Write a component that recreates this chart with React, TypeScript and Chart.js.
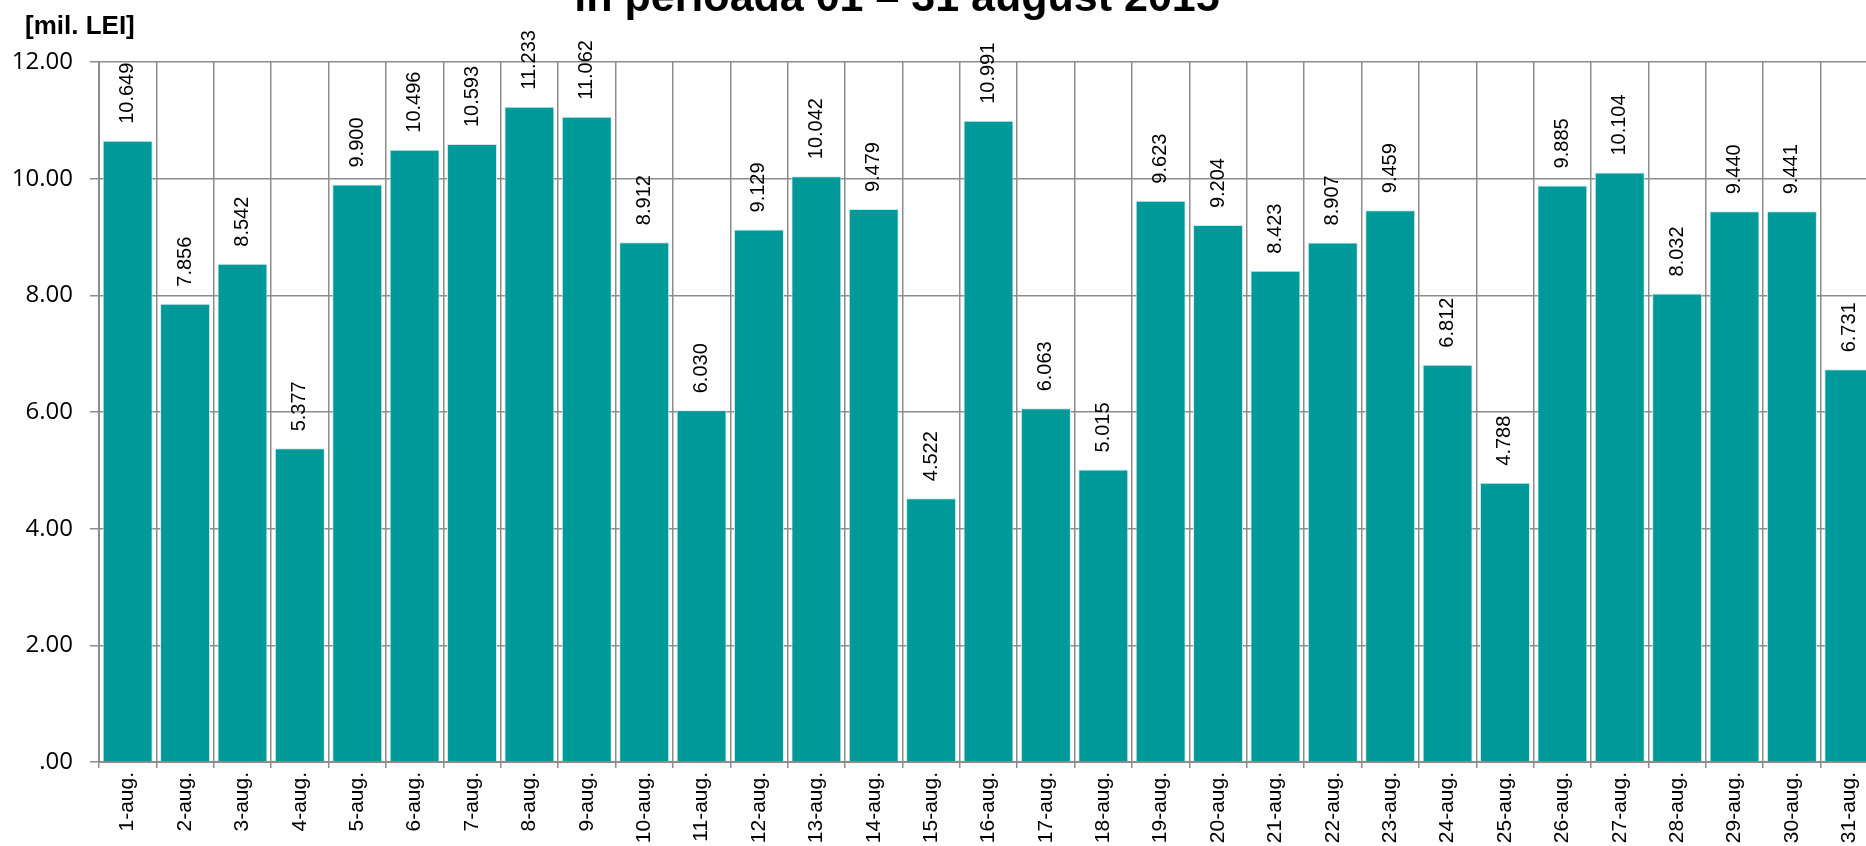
import React, { useEffect, useRef } from "react";
import { Chart, registerables } from "chart.js";

Chart.register(...registerables);

const categories: string[] = [
  "1-aug.", "2-aug.", "3-aug.", "4-aug.", "5-aug.", "6-aug.", "7-aug.", "8-aug.",
  "9-aug.", "10-aug.", "11-aug.", "12-aug.", "13-aug.", "14-aug.", "15-aug.", "16-aug.",
  "17-aug.", "18-aug.", "19-aug.", "20-aug.", "21-aug.", "22-aug.", "23-aug.", "24-aug.",
  "25-aug.", "26-aug.", "27-aug.", "28-aug.", "29-aug.", "30-aug.", "31-aug.",
];

const values: number[] = [
  10.649, 7.856, 8.542, 5.377, 9.9, 10.496, 10.593, 11.233,
  11.062, 8.912, 6.03, 9.129, 10.042, 9.479, 4.522, 10.991,
  6.063, 5.015, 9.623, 9.204, 8.423, 8.907, 9.459, 6.812,
  4.788, 9.885, 10.104, 8.032, 9.44, 9.441, 6.731,
];

const titleText = "în perioada 01 – 31 august 2015";
const unitText = "[mil. LEI]";
const yMin = 0;
const yMax = 12;
const yStep = 2;

const CANVAS_W = 1880;
const CANVAS_H = 900;
const AXIS_LEFT = 99;
const PLOT_TOP = 62;
const PLOT_BOTTOM = 762;

const GRID = "#8c8c8c";
const BAR = "#009999";

const labelsPlugin = {
  id: "valueLabels",
  afterDatasetsDraw(chart: any) {
    const ctx = chart.ctx;
    const meta = chart.getDatasetMeta(0);
    ctx.save();
    ctx.fillStyle = "#000";
    ctx.font = "20px 'Liberation Sans', Arial, sans-serif";
    ctx.textAlign = "left";
    ctx.textBaseline = "middle";
    meta.data.forEach((el: any, i: number) => {
      ctx.save();
      ctx.translate(el.x, el.y - 17);
      ctx.rotate(-Math.PI / 2);
      ctx.fillText(values[i].toFixed(3), 0, 0);
      ctx.restore();
    });
    ctx.restore();
  },
  afterDraw(chart: any) {
    const ctx = chart.ctx;
    ctx.save();
    ctx.fillStyle = "#000";
    ctx.textBaseline = "alphabetic";
    ctx.font = "bold 43px 'Liberation Sans', Arial, sans-serif";
    ctx.textAlign = "center";
    ctx.fillText(titleText, 897, 11);
    ctx.font = "bold 26px 'Liberation Sans', Arial, sans-serif";
    ctx.textAlign = "left";
    ctx.fillText(unitText, 25, 34);
    ctx.restore();
  },
};

export default function App() {
  const ref = useRef<HTMLCanvasElement | null>(null);
  useEffect(() => {
    if (!ref.current) return;
    const chart = new Chart(ref.current, {
      type: "bar",
      data: {
        labels: categories,
        datasets: [
          {
            data: values,
            backgroundColor: BAR,
            borderColor: "#cfe9e9",
            borderWidth: 1,
            barPercentage: 0.871,
            categoryPercentage: 1,
          },
        ],
      },
      options: {
        animation: false,
        responsive: false,
        devicePixelRatio: 1,
        layout: { padding: { left: 0, top: PLOT_TOP, right: 2, bottom: 0 } },
        plugins: {
          legend: { display: false },
          tooltip: { enabled: false },
          title: { display: false },
        },
        scales: {
          x: {
            grid: {
              display: true,
              offset: true,
              color: GRID,
              lineWidth: 1.5,
              tickLength: 6,
              drawTicks: true,
            },
            border: { display: true, color: GRID, width: 2 },
            ticks: {
              autoSkip: false,
              minRotation: 90,
              maxRotation: 90,
              padding: 4,
              color: "#000",
              font: { family: "'Liberation Sans', Arial, sans-serif", size: 21 },
            },
            afterFit: (s: any) => {
              s.height = CANVAS_H - PLOT_BOTTOM;
            },
          },
          y: {
            min: yMin,
            max: yMax,
            grid: {
              color: GRID,
              lineWidth: 1.5,
              tickLength: 9,
            },
            border: { display: true, color: GRID, width: 2 },
            ticks: {
              stepSize: yStep,
              padding: 17,
              color: "#000",
              font: { family: "'Open Sans', sans-serif", size: 24 },
              callback: (v: any) => (Number(v) === 0 ? ".00" : Number(v).toFixed(2)),
            },
            afterFit: (s: any) => {
              s.width = AXIS_LEFT;
            },
          },
        },
      },
      plugins: [labelsPlugin],
    });
    return () => chart.destroy();
  }, []);

  return (
    <div
      style={{
        position: "fixed",
        left: 0,
        top: 0,
        width: 1866,
        height: 846,
        overflow: "hidden",
        background: "#fff",
      }}
    >
      <canvas
        ref={ref}
        width={CANVAS_W}
        height={CANVAS_H}
        style={{ width: CANVAS_W, height: CANVAS_H, display: "block" }}
      />
    </div>
  );
}
